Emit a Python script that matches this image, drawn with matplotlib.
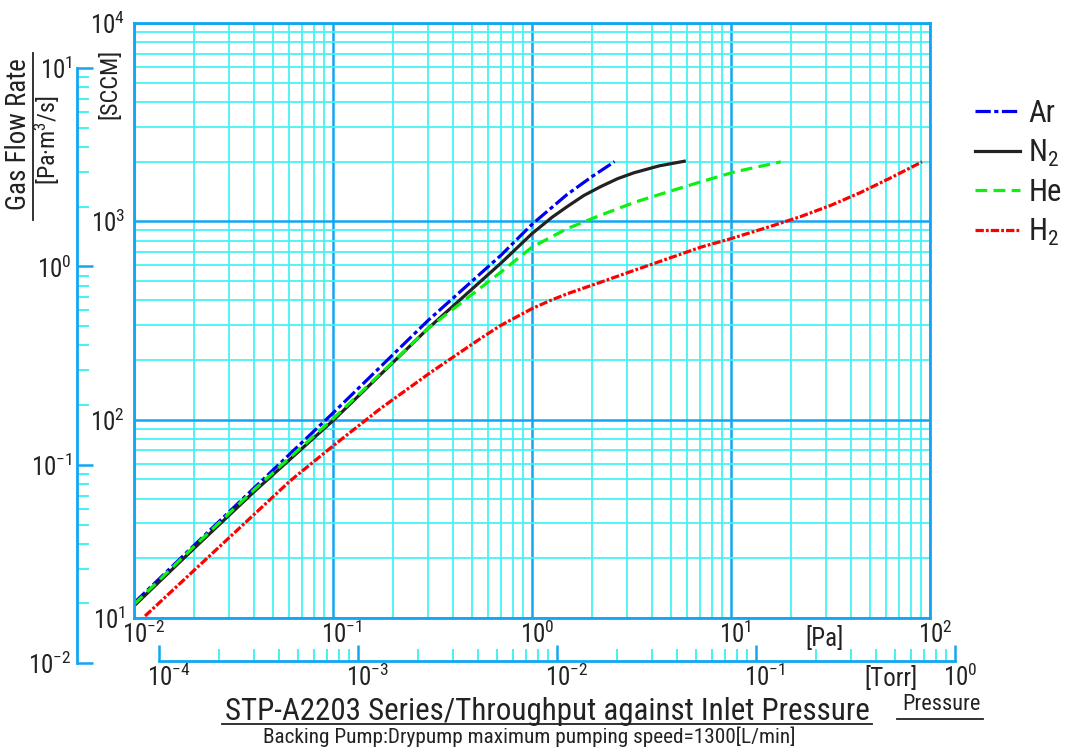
import matplotlib
matplotlib.use('Agg')
import matplotlib.pyplot as plt
import numpy as np
from matplotlib.ticker import LogLocator, NullFormatter, FuncFormatter
from matplotlib.lines import Line2D
from matplotlib.transforms import ScaledTranslation
from matplotlib import font_manager

# ---------- pick a narrow font if one is installed ----------
def _pick_font():
    fl = font_manager.fontManager.ttflist
    names = {f.name for f in fl}
    for n in ['Liberation Sans Narrow', 'Arial Narrow', 'Roboto Condensed',
              'Open Sans Condensed', 'Noto Sans Condensed', 'DejaVu Sans Condensed']:
        if n in names:
            return n, 'normal'
    for fam in ['Roboto', 'Noto Sans', 'Open Sans', 'DejaVu Sans']:
        for f in fl:
            if f.name == fam and str(f.stretch) in ('condensed', 'semi-condensed', '300', '400') \
                    and f.style == 'normal':
                return fam, 'condensed' if str(f.stretch) in ('condensed', '300') else 'semi-condensed'
    return 'Liberation Sans', 'normal'

FONT, STRETCH = _pick_font()
plt.rcParams['font.family'] = [FONT, 'DejaVu Sans']
plt.rcParams['font.stretch'] = STRETCH
plt.rcParams['mathtext.fontset'] = 'custom'
plt.rcParams['mathtext.rm'] = FONT
plt.rcParams['mathtext.it'] = FONT
plt.rcParams['mathtext.bf'] = FONT
plt.rcParams['lines.scale_dashes'] = False

# ---------------- data (pressure in Pa, flow in SCCM) ----------------
ar_p = [0.01, 0.02, 0.04, 0.1, 0.3, 0.7, 1.0, 1.5, 2.0, 2.6]
ar_q = [11.9, 23.2, 45.1, 108, 316, 676, 966, 1365, 1680, 2000]

n2_p = [0.01, 0.02, 0.04, 0.1, 0.3, 0.7, 1.0, 1.259, 1.507, 1.82, 2.213, 2.692, 3.258, 4.365, 5.821]
n2_q = [11.5, 22.4, 43.2, 98.9, 288, 617, 867, 1047, 1189, 1349, 1496, 1641, 1758, 1905, 2009]

he_p = [0.01, 0.02, 0.04, 0.1, 0.3, 0.7, 1.0, 1.5, 2.2, 3.3, 4.8, 7.0, 10.4, 17.8]
he_q = [11.7, 22.9, 44.2, 101, 288, 556, 741, 918, 1072, 1250, 1406, 1578, 1774, 1995]

h2_p = [0.01136, 0.01842, 0.02709, 0.03971, 0.06097, 0.1003, 0.173, 0.3088, 0.551, 0.695, 1.0,
        1.23, 1.51, 2.21, 3.26, 4.79, 7.05, 10.0, 15.85, 22.39, 31.62, 44.67, 63.1, 91.2]
h2_q = [10.23, 16.07, 23.05, 32.95, 49.18, 73.9, 113.7, 172.8, 256.6, 298.3, 363,
        398, 432, 493, 566, 647, 741, 818, 944, 1057, 1202, 1396, 1652, 1995]

gas_labels = ['Ar', 'N$_2$', 'He', 'H$_2$']
title_text = 'STP-A2203 Series/Throughput against Inlet Pressure'
subtitle_text = 'Backing Pump:Drypump maximum pumping speed=1300[L/min]'

PA_PER_TORR = 133.322
SCCM_PER_PAM3S = 592.1

# ---------------- styling ----------------
FW, FH = 1068, 749
BLUE = '#12A6F2'
CYAN = '#45F2F4'
TXT = '#222222'
TICKFS = 18

def fx(px):
    return px / FW

def fy(py):
    return 1 - py / FH

def pt(px):
    return px * 0.72

def sci(v, pos=None):
    e = int(round(np.log10(v)))
    return r'$\mathrm{10^{%d}}$' % e

fig = plt.figure(figsize=(FW / 100, FH / 100), dpi=100)
L, R, T, Bt = 134, 930, 23, 618
ax = fig.add_axes([fx(L), fy(Bt), fx(R) - fx(L), fy(T) - fy(Bt)])
ax.set_xscale('log')
ax.set_yscale('log')
ax.set_xlim(1e-2, 1e2)
ax.set_ylim(1e1, 1e4)
for a in (ax.xaxis, ax.yaxis):
    a.set_major_locator(LogLocator(base=10, numticks=20))
    a.set_minor_locator(LogLocator(base=10, subs=np.arange(2, 10), numticks=20))
    a.set_minor_formatter(NullFormatter())
    a.set_major_formatter(FuncFormatter(sci))
ax.tick_params(which='both', length=0, labelsize=TICKFS, labelcolor=TXT)
ax.tick_params(axis='x', pad=pt(3))
ax.tick_params(axis='y', pad=pt(9))
ax.grid(True, which='minor', color=CYAN, lw=1.3)
ax.grid(True, which='major', color=BLUE, lw=1.8)
ax.set_axisbelow(True)
for s in ax.spines.values():
    s.set_color(BLUE)
    s.set_linewidth(2.0)

l_ar, = ax.plot(ar_p, ar_q, color='#0000EE', lw=2.3, dashes=(11, 2.5, 3, 2.5), dash_capstyle='butt')
l_n2, = ax.plot(n2_p, n2_q, color='#222222', lw=2.3)
l_he, = ax.plot(he_p, he_q, color='#11EE11', lw=2.3, dashes=(8.5, 4.5), dash_capstyle='butt')
l_h2, = ax.plot(h2_p, h2_q, color='#FF0000', lw=2.3, dashes=(6, 1.5, 2, 1.5), dash_capstyle='butt')

# ---------------- left outer axis (Pa m3/s) ----------------
lo = np.log10(1e-2 * SCCM_PER_PAM3S)
H = fy(T) - fy(Bt)
axL = fig.add_axes([fx(77), fy(Bt) + H * (lo - 1) / 3, 0.0005, H])
axL.set_yscale('log')
axL.set_ylim(1e-2, 1e1)
axL.patch.set_visible(False)
axL.xaxis.set_visible(False)
for k in ('top', 'right', 'bottom'):
    axL.spines[k].set_visible(False)
axL.spines['left'].set_color(BLUE)
axL.spines['left'].set_linewidth(2.0)
axL.yaxis.set_major_locator(LogLocator(base=10, numticks=20))
axL.yaxis.set_minor_locator(LogLocator(base=10, subs=np.arange(2, 10), numticks=20))
axL.yaxis.set_minor_formatter(NullFormatter())
axL.yaxis.set_major_formatter(FuncFormatter(sci))
axL.tick_params(axis='y', which='major', direction='in', length=pt(16), width=1.8,
                color=BLUE, labelsize=TICKFS, labelcolor=TXT, pad=pt(5))
axL.tick_params(axis='y', which='minor', direction='in', length=pt(12), width=1.4, color=CYAN)

# ---------------- bottom outer axis (Torr) ----------------
W = fx(R) - fx(L)
tl = np.log10(1e-4 * PA_PER_TORR)
axT = fig.add_axes([fx(L) + W * (tl + 2) / 4, fy(661), W, 0.0005])
axT.set_xscale('log')
axT.set_xlim(1e-4, 1e0)
axT.patch.set_visible(False)
axT.yaxis.set_visible(False)
for k in ('top', 'right', 'left'):
    axT.spines[k].set_visible(False)
axT.spines['bottom'].set_color(BLUE)
axT.spines['bottom'].set_linewidth(2.0)
axT.xaxis.set_major_locator(LogLocator(base=10, numticks=20))
axT.xaxis.set_minor_locator(LogLocator(base=10, subs=np.arange(2, 10), numticks=20))
axT.xaxis.set_minor_formatter(NullFormatter())
axT.xaxis.set_major_formatter(FuncFormatter(sci))
axT.tick_params(axis='x', which='major', direction='in', length=pt(16), width=1.8,
                color=BLUE, labelsize=TICKFS, labelcolor=TXT, pad=pt(3))
axT.tick_params(axis='x', which='minor', direction='in', length=pt(12), width=1.4, color=CYAN)

# ---------------- texts ----------------
fitted = []
def ftext(x, y, s, length_px, rot=0, fs=18):
    t = fig.text(fx(x), fy(y), s, rotation=rot, ha='center', va='center', fontsize=fs, color=TXT)
    if length_px:
        fitted.append((t, length_px, rot))
    return t

ftext(19, 134, 'Gas Flow Rate', 152, rot=90)
fig.add_artist(Line2D([fx(33), fx(33)], [fy(53), fy(220)], color=TXT, lw=1.3))
ftext(47, 140, '[Pa·m$^3$/s]', 90, rot=90)
ftext(110, 84, '[SCCM]', 70, rot=90)

ftext(825, 638, '[Pa]', None, fs=18)
ftext(891, 679, '[Torr]', None, fs=18)

ftext(547, 711, title_text, 646)
fig.add_artist(Line2D([fx(222), fx(872)], [fy(724), fy(724)], color=TXT, lw=1.3))
ftext(529, 737, subtitle_text, 532)
ftext(941, 705, 'Pressure', 78)
fig.add_artist(Line2D([fx(897), fx(983)], [fy(719), fy(719)], color=TXT, lw=1.3))

fig.legend([l_ar, l_n2, l_he, l_h2], gas_labels, loc='upper left',
           bbox_to_anchor=(fx(975), fy(99)), frameon=False, fontsize=22,
           handlelength=1.47, handletextpad=0.27, labelspacing=0.31,
           borderaxespad=0, borderpad=0, labelcolor=TXT)

fig.canvas.draw()
rend = fig.canvas.get_renderer()
for t, target, rot in fitted:
    bb = t.get_window_extent(rend)
    cur = bb.height if rot == 90 else bb.width
    if cur > 0:
        t.set_fontsize(t.get_fontsize() * target / cur)

# x tick labels: the mantissa "10" is centred on its tick, exponent trails to the right
shift = ScaledTranslation(-12 / 100, 0, fig.dpi_scale_trans)
for a in (ax.xaxis, axT.xaxis):
    for tk in a.get_major_ticks():
        tk.label1.set_horizontalalignment('left')
        tk.label1.set_transform(tk.label1.get_transform() + shift)

fig.savefig('out.png', dpi=100)
